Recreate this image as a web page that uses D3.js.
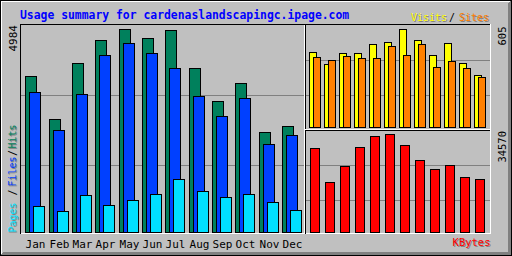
<!DOCTYPE html>
<html>
<head>
<meta charset="utf-8">
<script src="https://cdn.jsdelivr.net/npm/d3@7"></script>
<style>
  body { margin: 0; background: #fff; }
  svg { display: block; }
  text { font-family: "DejaVu Sans Mono", monospace; }
</style>
</head>
<body>
<svg id="chart" width="512" height="256"></svg>
<script>
// usage data
const months = ["Jan","Feb","Mar","Apr","May","Jun","Jul","Aug","Sep","Oct","Nov","Dec"];
const hits   = [3821, 2774, 4149, 4714, 4984, 4763, 4959, 4026, 3216, 3658, 2455, 2602];
const files  = [3437, 2504, 3388, 4346, 4640, 4395, 4026, 3339, 2848, 3290, 2160, 2382];
const pages  = [638, 516, 908, 663, 786, 933, 1301, 1007, 859, 933, 737, 540];
const visits = [463, 389, 457, 457, 512, 525, 605, 537, 444, 519, 395, 321];
const sites  = [432, 414, 438, 426, 426, 500, 444, 512, 370, 407, 364, 309];
const kbytes = [29630, 17638, 23282, 29983, 33865, 34570, 30690, 25399, 22224, 23635, 19402, 18696];
const maxLabels = ["4984", "605", "34570"];

const grey = "#c0c0c0", dkgrey = "#808080";

const svg = d3.select("#chart");
const g = svg.append("g").attr("shape-rendering", "crispEdges");

function hline(x1, x2, y, c) {
  g.append("line").attr("x1", x1).attr("x2", x2 + 1).attr("y1", y + 0.5).attr("y2", y + 0.5).attr("stroke", c);
}
function vline(x, y1, y2, c) {
  g.append("line").attr("x1", x + 0.5).attr("x2", x + 0.5).attr("y1", y1).attr("y2", y2 + 1).attr("stroke", c);
}

// background + bevelled border
g.append("rect").attr("width", 512).attr("height", 256).attr("fill", grey);
for (let i = 1; i < 4; i++) {
  hline(i, 511 - i - 1, 255 - i, dkgrey);
  vline(511 - i, i, 255 - i, dkgrey);
}
hline(1, 509, 1, "#fff");
vline(1, 1, 253, "#fff");
g.append("rect").attr("x", 0.5).attr("y", 0.5).attr("width", 511).attr("height", 255)
  .attr("fill", "none").attr("stroke", "#000");

// graph frame
hline(20, 490, 24, "#000");
vline(20, 24, 233, "#000");
hline(21, 490, 233, "#fff");
vline(490, 24, 233, "#fff");
// section lines
vline(304, 25, 233, "#fff");
vline(305, 25, 233, "#000");
hline(305, 489, 129, "#fff");
hline(305, 489, 130, "#000");

// index lines
[95, 165].forEach(y => hline(21, 303, y, dkgrey));
[60, 95, 165, 200].forEach(y => hline(306, 489, y, dkgrey));

// scales
const xMain  = d3.scaleBand().domain(months).range([25.333, 305.333]);
const xSmall = d3.scaleBand().domain(months).range([309, 489]);
const yMain  = d3.scaleLinear().domain([0, d3.max(hits)]).range([232, 29]);
const yTop   = d3.scaleLinear().domain([0, d3.max(visits)]).range([127, 29]);
const yBot   = d3.scaleLinear().domain([0, d3.max(kbytes)]).range([232, 134]);

function bars(data, x, y, off, w, color) {
  const base = y(0);
  g.append("g").selectAll("rect").data(data).join("rect")
    .attr("x", (d, i) => Math.round(x(months[i])) + off + 0.5)
    .attr("y", d => Math.round(y(d)) + 0.5)
    .attr("width", w)
    .attr("height", d => base - Math.round(y(d)))
    .attr("fill", color)
    .attr("stroke", "#000");
}

bars(hits,   xMain, yMain, 0, 11, "#00805c");
bars(files,  xMain, yMain, 4, 11, "#0040ff");
bars(pages,  xMain, yMain, 8, 11, "#00e0ff");
bars(visits, xSmall, yTop, 0, 7, "#ffff00");
bars(sites,  xSmall, yTop, 4, 7, "#ff8000");
bars(kbytes, xSmall, yBot, 1, 9, "#ff0000");

// text
function label(str, x, y, color, size, opts = {}) {
  const rot = opts.up ? " rotate(-90)" : "";
  const mk = (dx, dy, c) => svg.append("text")
    .attr("transform", `translate(${x + dx},${y + dy})${rot}`)
    .attr("text-anchor", opts.anchor || "start")
    .attr("font-size", size)
    .attr("font-weight", opts.bold ? "bold" : "normal")
    .attr("fill", c)
    .text(str);
  if (opts.shadow) mk(1, 1, dkgrey);
  mk(0, 0, color);
}

label("Usage summary for cardenaslandscapingc.ipage.com", 20, 19, "#0000ff", 11.4, {bold: true});
label("Visits", 411, 21, "#ffff00", 10, {shadow: true});
label("/", 449, 21, "#000", 10);
label("Sites", 459, 21, "#ff8000", 10, {shadow: true});
label("KBytes", 490.5, 246, "#ff0000", 10.5, {anchor: "end", shadow: true});

g.append("g").selectAll("text").data(months).join("text")
  .attr("x", m => Math.round(xMain(m)) + 10.5)
  .attr("y", 247.5)
  .attr("text-anchor", "middle")
  .attr("font-size", 11)
  .attr("fill", "#000")
  .text(m => m);

label(maxLabels[0], 17, 25, "#000", 11, {up: true, anchor: "end"});
label(maxLabels[1], 505.5, 26.5, "#000", 10.5, {up: true, anchor: "end"});
label(maxLabels[2], 505.5, 131, "#000", 10.5, {up: true, anchor: "end"});

label("Pages", 16, 232.5, "#00e0ff", 10, {up: true, shadow: true});
label("/", 16, 195.5, "#000", 10, {up: true});
label("Files", 16, 186.5, "#0040ff", 10, {up: true, shadow: true});
label("/", 16, 156, "#000", 10, {up: true});
label("Hits", 16, 148.5, "#00805c", 10, {up: true, shadow: true});
</script>
</body>
</html>
